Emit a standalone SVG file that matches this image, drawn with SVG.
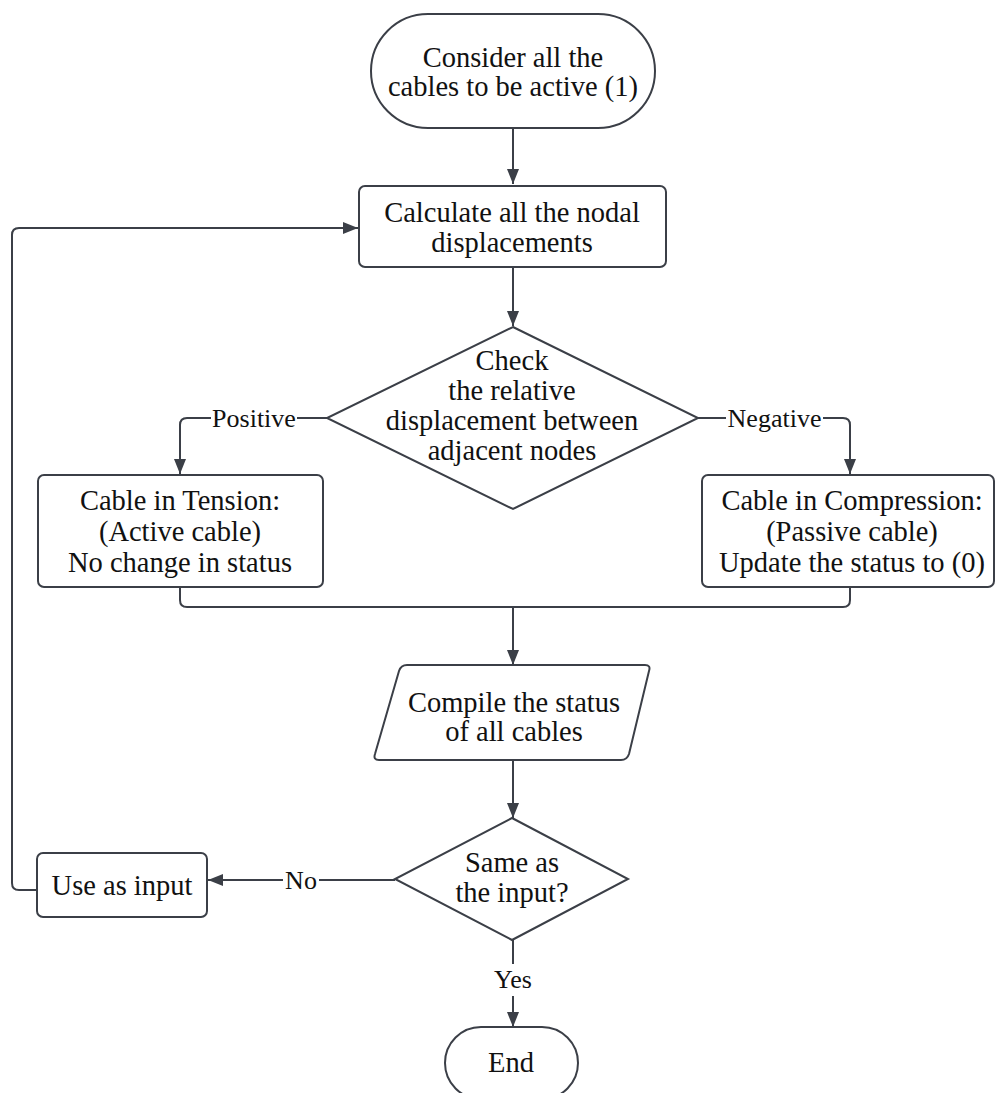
<svg xmlns="http://www.w3.org/2000/svg" width="996" height="1093" viewBox="0 0 996 1093">
  <defs>
    <marker id="arrow" markerUnits="userSpaceOnUse" markerWidth="15" markerHeight="12" refX="15" refY="6" orient="auto">
      <path d="M0,0 L15,6 L0,12 Z" fill="#3b3f47"/>
    </marker>
    <style>
      .shape { fill: #ffffff; stroke: #3b3f47; stroke-width: 2; }
      .edge { fill: none; stroke: #3b3f47; stroke-width: 2; }
      .txt { font-size: 28.5px; fill: #111111; text-anchor: middle; }
      .lbl { font-size: 26px; fill: #111111; text-anchor: middle; }
      .lblbg { fill: #ffffff; stroke: none; }
    </style>
  </defs>
  <rect width="996" height="1093" fill="#ffffff"/>

  <g font-family="Liberation Serif, DejaVu Serif, serif">
  <!-- connectors -->
  <g id="connectors">
    <path class="edge" d="M513 128 V184" marker-end="url(#arrow)"/>
    <path class="edge" d="M513 267 V326" marker-end="url(#arrow)"/>
    <!-- Positive branch -->
    <path class="edge" d="M327 418 H187 Q180 418 180 425 V474" marker-end="url(#arrow)"/>
    <!-- Negative branch -->
    <path class="edge" d="M698 418 H843 Q850 418 850 425 V474" marker-end="url(#arrow)"/>
    <!-- merge into compile step -->
    <path class="edge" d="M180 587 V600 Q180 607 187 607 H513"/>
    <path class="edge" d="M850 587 V600 Q850 607 843 607 H513"/>
    <path class="edge" d="M513 607 V665" marker-end="url(#arrow)"/>
    <path class="edge" d="M513 760 V818" marker-end="url(#arrow)"/>
    <!-- No branch -->
    <path class="edge" d="M395 880 H208" marker-end="url(#arrow)"/>
    <!-- loop back to displacement calculation -->
    <path class="edge" d="M37 890 H19 Q12 890 12 883 V235 Q12 228 19 228 H358" marker-end="url(#arrow)"/>
    <!-- Yes branch -->
    <path class="edge" d="M513 940 V1027" marker-end="url(#arrow)"/>

    <g id="label-positive">
      <rect class="lblbg" x="211" y="403" width="86" height="30"/>
      <text class="lbl" x="254" y="427">Positive</text>
    </g>
    <g id="label-negative">
      <rect class="lblbg" x="726" y="403" width="97" height="30"/>
      <text class="lbl" x="774.5" y="427">Negative</text>
    </g>
    <g id="label-no">
      <rect class="lblbg" x="283" y="865" width="36" height="30"/>
      <text class="lbl" x="301" y="889">No</text>
    </g>
    <g id="label-yes">
      <rect class="lblbg" x="493" y="964" width="40" height="32"/>
      <text class="lbl" x="513" y="988">Yes</text>
    </g>
  </g>

  <g id="start">
    <rect class="shape" x="371" y="14" width="284" height="114" rx="57" ry="57"/>
    <text class="txt" x="513" y="67">Consider all the</text>
    <text class="txt" x="513" y="96">cables to be active (1)</text>
  </g>

  <g id="calc-displacements">
    <rect class="shape" x="359" y="186" width="307" height="81" rx="6" ry="6"/>
    <text class="txt" x="512" y="222">Calculate all the nodal</text>
    <text class="txt" x="512" y="252">displacements</text>
  </g>

  <g id="check-displacement">
    <polygon class="shape" points="513,327 698,418 513,509 327,418"/>
    <text class="txt" x="512" y="370">Check</text>
    <text class="txt" x="512" y="400">the relative</text>
    <text class="txt" x="512" y="430">displacement between</text>
    <text class="txt" x="512" y="460">adjacent nodes</text>
  </g>

  <g id="cable-tension">
    <rect class="shape" x="38" y="475" width="285" height="112" rx="6" ry="6"/>
    <text class="txt" x="180" y="510">Cable in Tension:</text>
    <text class="txt" x="180" y="541">(Active cable)</text>
    <text class="txt" x="180" y="572">No change in status</text>
  </g>

  <g id="cable-compression">
    <rect class="shape" x="702" y="475" width="292" height="112" rx="6" ry="6"/>
    <text class="txt" x="852" y="510">Cable in Compression:</text>
    <text class="txt" x="852" y="541">(Passive cable)</text>
    <text class="txt" x="852" y="572">Update the status to (0)</text>
  </g>

  <g id="compile-status">
    <path class="shape" d="M407 665 H645 Q651 665 649 671 L629 754 Q627 760 621 760 H379 Q373 760 375 754 L399 671 Q401 665 407 665 Z"/>
    <text class="txt" x="514" y="712">Compile the status</text>
    <text class="txt" x="514" y="741">of all cables</text>
  </g>

  <g id="same-as-input">
    <polygon class="shape" points="512,818 628,879 512,940 395,879"/>
    <text class="txt" x="512" y="872">Same as</text>
    <text class="txt" x="512" y="902">the input?</text>
  </g>

  <g id="use-as-input">
    <rect class="shape" x="37" y="853" width="170" height="64" rx="6" ry="6"/>
    <text class="txt" x="122" y="895">Use as input</text>
  </g>

  <g id="end">
    <rect class="shape" x="445" y="1027" width="133" height="72" rx="36" ry="36"/>
    <text class="txt" x="511" y="1072">End</text>
  </g>
  </g>
</svg>
